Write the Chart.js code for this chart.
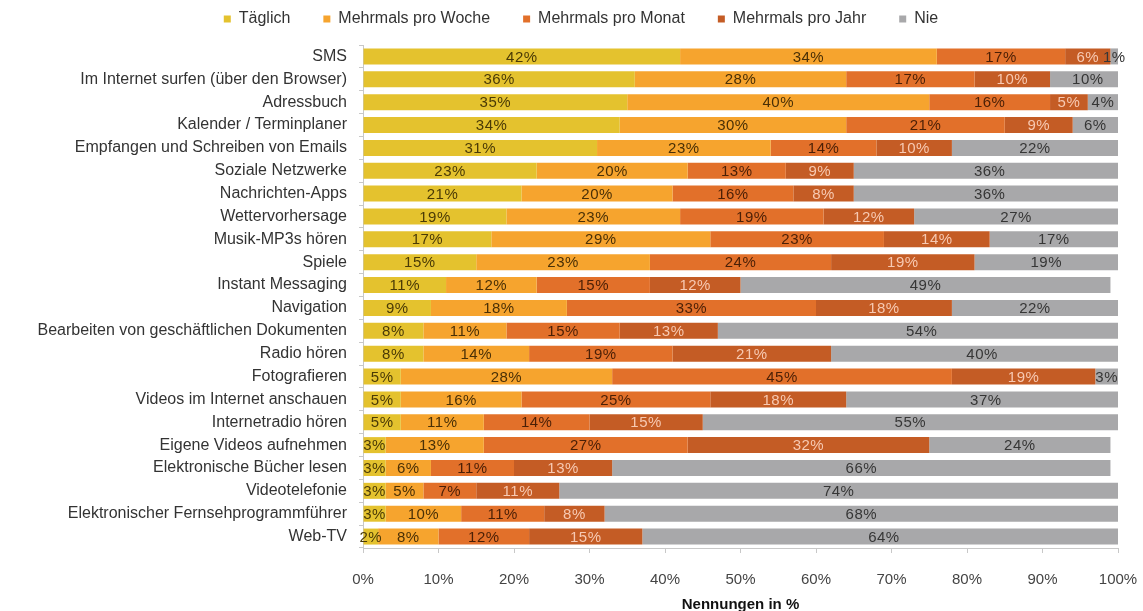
<!DOCTYPE html>
<html lang="de">
<head>
<meta charset="UTF-8">
<title>Nutzung von Smartphone-Funktionen</title>
<script src="https://cdn.jsdelivr.net/npm/chart.js"></script>
<style>
  body {
    margin: 0;
    background: #fff;
  }
  #wrap {
    width: 1143px;
    height: 611px;
  }
</style>
</head>
<body>
<div id="wrap"><canvas id="usage-chart"></canvas></div>
<script>
  const categories = [
    'SMS',
    'Im Internet surfen (über den Browser)',
    'Adressbuch',
    'Kalender / Terminplaner',
    'Empfangen und Schreiben von Emails',
    'Soziale Netzwerke',
    'Nachrichten-Apps',
    'Wettervorhersage',
    'Musik-MP3s hören',
    'Spiele',
    'Instant Messaging',
    'Navigation',
    'Bearbeiten von geschäftlichen Dokumenten',
    'Radio hören',
    'Fotografieren',
    'Videos im Internet anschauen',
    'Internetradio hören',
    'Eigene Videos aufnehmen',
    'Elektronische Bücher lesen',
    'Videotelefonie',
    'Elektronischer Fernsehprogrammführer',
    'Web-TV'
  ];

  const taeglich = [42, 36, 35, 34, 31, 23, 21, 19, 17, 15, 11, 9, 8, 8, 5, 5, 5, 3, 3, 3, 3, 2];
  const proWoche = [34, 28, 40, 30, 23, 20, 20, 23, 29, 23, 12, 18, 11, 14, 28, 16, 11, 13, 6, 5, 10, 8];
  const proMonat = [17, 17, 16, 21, 14, 13, 16, 19, 23, 24, 15, 33, 15, 19, 45, 25, 14, 27, 11, 7, 11, 12];
  const proJahr  = [6, 10, 5, 9, 10, 9, 8, 12, 14, 19, 12, 18, 13, 21, 19, 18, 15, 32, 13, 11, 8, 15];
  const nie      = [1, 10, 4, 6, 22, 36, 36, 27, 17, 19, 49, 22, 54, 40, 3, 37, 55, 24, 66, 74, 68, 64];

  const xTicks = [0, 10, 20, 30, 40, 50, 60, 70, 80, 90, 100];

  const series = [
    { label: 'Täglich',            data: taeglich, color: '#e4c22e', text: '#4a3a06' },
    { label: 'Mehrmals pro Woche', data: proWoche, color: '#f6a42e', text: '#4a3006' },
    { label: 'Mehrmals pro Monat', data: proMonat, color: '#e2702a', text: '#4a1f06' },
    { label: 'Mehrmals pro Jahr',  data: proJahr,  color: '#c45c25', text: '#f7c9b2' },
    { label: 'Nie',                data: nie,      color: '#a8a8aa', text: '#363636' }
  ];

  const FONT = '"Liberation Sans", Arial, sans-serif';

  // draws the percent value in the middle of every segment
  const segmentLabels = {
    id: 'segmentLabels',
    afterDatasetsDraw(chart) {
      const ctx = chart.ctx;
      ctx.save();
      ctx.font = '15px ' + FONT;
      ctx.letterSpacing = '0.5px';
      ctx.textAlign = 'center';
      ctx.textBaseline = 'middle';
      chart.data.datasets.forEach((ds, i) => {
        const meta = chart.getDatasetMeta(i);
        ctx.fillStyle = ds.labelColor;
        meta.data.forEach((bar, j) => {
          const cx = (bar.x + bar.base) / 2;
          ctx.fillText(ds.data[j] + '%', cx, bar.y + 1);
        });
      });
      ctx.restore();
    }
  };

  // more room between legend and plot, and the legend moved a little right
  const legendSpacer = {
    id: 'legendSpacer',
    beforeInit(chart) {
      const fit = chart.legend.fit;
      chart.legend.fit = function () {
        fit.bind(chart.legend)();
        this.height += 8;
      };
    },
    afterLayout(chart) {
      chart.legend.left += 22;
      chart.legend.right += 22;
    }
  };

  new Chart(document.getElementById('usage-chart'), {
    type: 'bar',
    data: {
      labels: categories,
      datasets: series.map(s => ({
        label: s.label,
        data: s.data,
        backgroundColor: s.color,
        borderWidth: 0,
        labelColor: s.text,
        barPercentage: 0.7,
        categoryPercentage: 1
      }))
    },
    options: {
      indexAxis: 'y',
      responsive: true,
      maintainAspectRatio: false,
      animation: false,
      layout: {
        padding: { left: 0, right: 25, top: -22, bottom: -3 }
      },
      plugins: {
        legend: {
          position: 'top',
          labels: {
            boxWidth: 7,
            boxHeight: 7,
            padding: 33,
            color: '#333',
            font: { family: FONT, size: 16 }
          }
        },
        tooltip: { enabled: false }
      },
      scales: {
        x: {
          stacked: true,
          min: 0,
          max: 100,
          afterBuildTicks: axis => {
            axis.ticks = xTicks.map(v => ({ value: v }));
          },
          afterFit: axis => {
            axis.paddingRight = 0;
          },
          border: { color: '#c8c8c8' },
          grid: {
            drawOnChartArea: false,
            drawTicks: true,
            tickLength: 5,
            color: '#c8c8c8'
          },
          ticks: {
            color: '#444',
            padding: 18,
            font: { family: FONT, size: 15 },
            callback: v => v + '%'
          },
          title: {
            display: true,
            text: 'Nennungen in %',
            color: '#111',
            padding: { top: -11, bottom: 0 },
            font: { family: FONT, size: 15, weight: 'bold' }
          }
        },
        y: {
          stacked: true,
          afterFit: axis => {
            axis.width = 363;
          },
          border: { color: '#c8c8c8' },
          grid: {
            drawOnChartArea: false,
            drawTicks: true,
            tickLength: 4,
            color: '#c8c8c8'
          },
          ticks: {
            color: '#333',
            padding: 12,
            autoSkip: false,
            font: { family: FONT, size: 16 }
          }
        }
      }
    },
    plugins: [legendSpacer, segmentLabels]
  });
</script>
</body>
</html>
